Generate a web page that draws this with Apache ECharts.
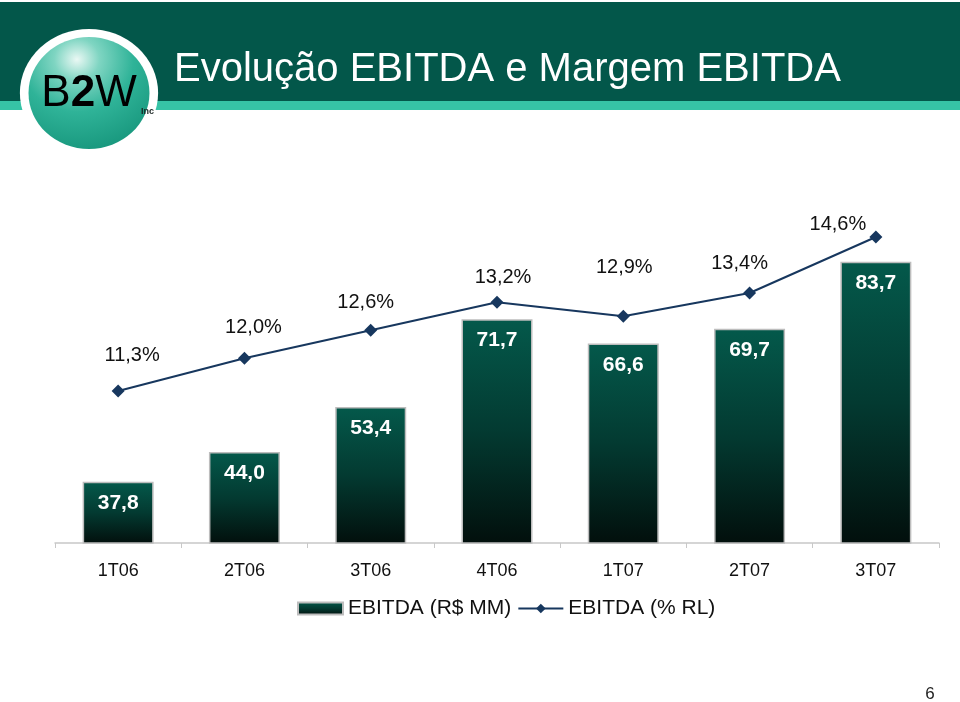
<!DOCTYPE html>
<html>
<head>
<meta charset="utf-8">
<script src="https://cdn.jsdelivr.net/npm/echarts@6/dist/echarts.min.js"></script>
<style>
html,body{margin:0;padding:0;background:#fff;}
#chart{width:960px;height:702px;}
</style>
</head>
<body>
<div id="chart"></div>
<script>
const categories = ['1T06', '2T06', '3T06', '4T06', '1T07', '2T07', '3T07'];
const ebitdaValues = [37.8, 44.0, 53.4, 71.7, 66.6, 69.7, 83.7];
const marginValues = [11.3, 12.0, 12.6, 13.2, 12.9, 13.4, 14.6];
const seriesNames = ['EBITDA (R$ MM)', 'EBITDA (% RL)'];
const titleText = 'Evolução EBITDA e Margem EBITDA';
const pageNumber = '6';

const marginLabelOffsets = [[14, -36], [9, -31], [-5, -28], [6, -25], [1, -49], [-10, -30], [-38, -13]];

const FONT = '"Liberation Sans", Arial, sans-serif';
const fmt = v => v.toFixed(1).replace('.', ',');

const chart = echarts.init(document.getElementById('chart'), null, {renderer: 'canvas'});

const option = {
  backgroundColor: '#ffffff',
  animation: false,
  textStyle: {fontFamily: FONT},
  grid: {left: 55, right: 21, top: 213, bottom: 159},
  legend: {
    data: [{name: seriesNames[0], icon: 'rect'}, {name: seriesNames[1]}],
    left: 297,
    top: 598,
    padding: 0,
    itemWidth: 45,
    itemHeight: 12,
    itemGap: 6,
    textStyle: {fontSize: 21, color: '#111', fontFamily: FONT}
  },
  xAxis: {
    type: 'category',
    data: categories,
    boundaryGap: true,
    axisLine: {lineStyle: {color: '#c8c8c8', width: 1.5}},
    axisTick: {show: true, length: 5, lineStyle: {color: '#c8c8c8'}},
    axisLabel: {fontSize: 18, color: '#111', margin: 19, fontFamily: FONT},
    splitLine: {show: false}
  },
  yAxis: [
    {type: 'value', min: 25, max: 93.85, show: false, splitLine: {show: false}},
    {type: 'value', min: 8.043, max: 15.114, show: false, splitLine: {show: false}}
  ],
  series: [
    {
      name: seriesNames[0],
      type: 'bar',
      yAxisIndex: 0,
      data: ebitdaValues,
      barWidth: 71,
      itemStyle: {
        color: new echarts.graphic.LinearGradient(0, 0, 0, 1, [
          {offset: 0, color: '#04594b'},
          {offset: 0.5, color: '#033a31'},
          {offset: 1, color: '#020f0c'}
        ]),
        borderColor: '#bdbdbd',
        borderWidth: 1.5
      },
      label: {
        show: true,
        position: 'insideTop',
        distance: 11,
        color: '#ffffff',
        fontSize: 21,
        fontWeight: 'bold',
        fontFamily: FONT,
        formatter: p => fmt(p.value)
      },
      z: 2
    },
    {
      name: seriesNames[1],
      type: 'line',
      yAxisIndex: 1,
      data: marginValues.map((v, i) => ({value: v, label: {offset: marginLabelOffsets[i]}})),
      symbol: 'diamond',
      symbolSize: 13,
      lineStyle: {color: '#17375e', width: 2},
      itemStyle: {color: '#17375e'},
      label: {
        show: true,
        position: 'inside',
        align: 'center',
        verticalAlign: 'middle',
        color: '#111',
        fontSize: 20,
        fontFamily: FONT,
        formatter: p => fmt(p.value) + '%'
      },
      z: 3
    }
  ],
  graphic: [
    {type: 'rect', shape: {x: 0, y: 2, width: 960, height: 99}, style: {fill: '#03574a'}, z: 0},
    {type: 'rect', shape: {x: 0, y: 101, width: 960, height: 9}, style: {fill: '#36c3a6'}, z: 0},
    {type: 'circle', x: 89, y: 93, scaleX: 1.08, shape: {cx: 0, cy: 0, r: 64}, style: {fill: '#ffffff'}, z: 1},
    {type: 'circle', x: 89, y: 93, scaleX: 1.08, shape: {cx: 0, cy: 0, r: 56},
      style: {fill: {type: 'radial', x: 0.4, y: 0.2, r: 0.85, colorStops: [
        {offset: 0, color: '#eaf8f4'},
        {offset: 0.22, color: '#7fd5c2'},
        {offset: 0.55, color: '#2fb398'},
        {offset: 1, color: '#17967c'}
      ]}}, z: 2},
    {type: 'text', x: 89, y: 94, z: 3,
      style: {
        text: '{d|B}{w|2}{d|W}',
        align: 'center', verticalAlign: 'middle',
        rich: {
          d: {fontSize: 44, fontFamily: FONT, color: '#1b2624', fontWeight: 'normal'},
          w: {fontSize: 44, fontFamily: FONT, color: '#ffffff', fontWeight: 'bold'}
        }
      }},
    {type: 'text', x: 141, y: 112, z: 3, style: {text: 'Inc', fontSize: 9, fontFamily: FONT, fontWeight: 'bold', fill: '#1b2624', verticalAlign: 'middle'}},
    {type: 'text', x: 174, y: 50, z: 3, style: {text: titleText, fontSize: 40, fontFamily: FONT, fill: '#ffffff', verticalAlign: 'top'}},
    {type: 'text', x: 930, y: 694, z: 3, style: {text: pageNumber, fontSize: 17, fontFamily: FONT, fill: '#222', align: 'center', verticalAlign: 'middle'}}
  ]
};

chart.setOption(option);
</script>
</body>
</html>
